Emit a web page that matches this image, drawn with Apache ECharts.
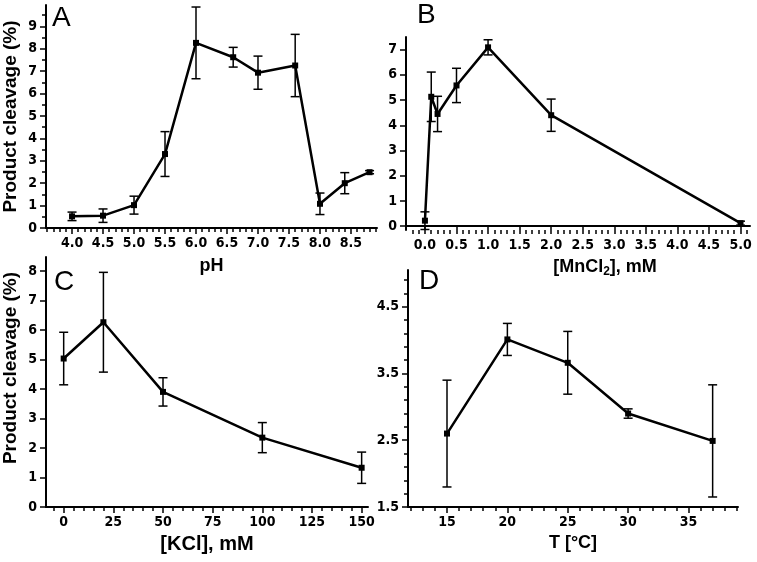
<!DOCTYPE html>
<html><head><meta charset="utf-8">
<script src="https://cdn.jsdelivr.net/npm/echarts@6/dist/echarts.min.js"></script>
<style>html,body{margin:0;padding:0;background:#fff}#c{width:757px;height:562px}</style>
</head><body><div id="c"></div>
<script>
// ---- Panel A: pH ----
const phX   = [4.0, 4.5, 5.0, 5.5, 6.0, 6.6, 7.0, 7.6, 8.0, 8.4, 8.8];
const phY   = [0.52, 0.55, 1.02, 3.30, 8.26, 7.62, 6.93, 7.25, 1.08, 2.00, 2.49];
const phErr = [0.19, 0.30, 0.40, 1.00, 1.60, 0.44, 0.74, 1.39, 0.48, 0.47, 0.07];
const phXTicks = [4.0, 4.5, 5.0, 5.5, 6.0, 6.5, 7.0, 7.5, 8.0, 8.5];
const phYTicks = [0, 1, 2, 3, 4, 5, 6, 7, 8, 9];

// ---- Panel B: MnCl2 ----
const mnX   = [0.0, 0.1, 0.2, 0.5, 1.0, 2.0, 5.0];
const mnY   = [0.22, 5.13, 4.45, 5.58, 7.09, 4.40, 0.12];
const mnErr = [0.35, 0.98, 0.70, 0.68, 0.30, 0.64, 0.08];
const mnXTicks = [0.0, 0.5, 1.0, 1.5, 2.0, 2.5, 3.0, 3.5, 4.0, 4.5, 5.0];
const mnYTicks = [0, 1, 2, 3, 4, 5, 6, 7];

// ---- Panel C: KCl ----
const kclX   = [0, 20, 50, 100, 150];
const kclY   = [5.03, 6.26, 3.90, 2.35, 1.33];
const kclErr = [0.89, 1.69, 0.48, 0.51, 0.53];
const kclXTicks = [0, 25, 50, 75, 100, 125, 150];
const kclYTicks = [0, 1, 2, 3, 4, 5, 6, 7, 8];

// ---- Panel D: Temperature ----
const tX   = [15, 20, 25, 30, 37];
const tY   = [2.60, 4.01, 3.66, 2.90, 2.49];
const tErr = [0.80, 0.24, 0.47, 0.07, 0.84];
const tXTicks = [15, 20, 25, 30, 35];
const tYTicks = [1.5, 2.5, 3.5, 4.5];

const FONT_NUM = '"Liberation Sans Narrow", "DejaVu Sans Condensed", "Liberation Sans", Arial, sans-serif';
const FONT = '"Liberation Sans", Arial, sans-serif';

function steps(a, b, s) { const out = []; const n = Math.round((b - a) / s); for (let i = 0; i <= n; i++) out.push(+(a + i * s).toFixed(4)); return out; }

const labelStyle = (fmt, margin) => ({ color: '#000', fontFamily: FONT_NUM, fontWeight: 'bold', fontSize: 14, margin: margin, formatter: fmt });

function mainAxis(g, min, max, ticks, fmt, isY, extra) {
  return Object.assign({
    type: 'value', gridIndex: g, min: min, max: max, position: isY ? 'left' : 'bottom',
    axisLine: { show: true, onZero: !isY, lineStyle: { color: '#000', width: 2 } },
    axisTick: { show: true, customValues: ticks, length: 6, lineStyle: { color: '#000', width: 1.5 } },
    axisLabel: Object.assign({ customValues: ticks }, labelStyle(fmt, isY ? 9 : 8)),
    splitLine: { show: false }
  }, extra || {});
}
function minorAxis(g, min, max, ticks, isY) {
  return {
    type: 'value', gridIndex: g, min: min, max: max, position: isY ? 'left' : 'bottom',
    axisLine: { show: false, onZero: !isY },
    axisTick: { show: true, customValues: ticks, length: 4, lineStyle: { color: '#000', width: 1.5 } },
    axisLabel: { show: false }, splitLine: { show: false }
  };
}

const f1 = v => v.toFixed(1);
const f0 = v => String(Math.round(v));
const nameStyle = { color: '#000', fontFamily: FONT, fontWeight: 'bold', fontSize: 18 };
const yNameStyle = { color: '#000', fontFamily: FONT, fontWeight: 'bold', fontSize: 19 };

const grids = [
  { left: 45, top: 5, width: 332, height: 223 },
  { left: 406, top: 37, width: 344, height: 193 },
  { left: 45, top: 257, width: 323, height: 250 },
  { left: 408, top: 270, width: 330, height: 237 }
];

const xAxes = [
  mainAxis(0, 3.58, 8.92, phXTicks, f1, false, { name: 'pH', nameLocation: 'middle', nameGap: 29, nameTextStyle: nameStyle }),
  mainAxis(1, -0.30, 5.15, mnXTicks, f1, false, { name: '[MnCl{sub|2}], mM', nameLocation: 'middle', nameGap: 27,
    nameTextStyle: Object.assign({}, nameStyle, { padding: [0, 0, 0, 54], rich: { sub: { fontFamily: FONT, fontWeight: 'bold', fontSize: 12, verticalAlign: 'top', padding: [9, 0, 0, 0], color: '#000' } } }) }),
  mainAxis(2, -8.9, 153.2, kclXTicks, f0, false, { name: '[KCl], mM', nameLocation: 'middle', nameGap: 27,
    nameTextStyle: Object.assign({}, nameStyle, { fontSize: 20 }) }),
  mainAxis(3, 11.77, 39.1, tXTicks, f0, false, { name: 'T [°C]', nameLocation: 'middle', nameGap: 27, nameTextStyle: nameStyle }),
  minorAxis(0, 3.58, 8.92, steps(3.6, 8.9, 0.1), false),
  minorAxis(1, -0.30, 5.15, steps(-0.2, 5.1, 0.1), false),
  minorAxis(2, -8.9, 153.2, steps(-5, 150, 5), false),
  minorAxis(3, 11.77, 39.1, steps(12, 39, 1), false)
];

const yAxes = [
  mainAxis(0, 0, 9.95, phYTicks, f0, true, { name: 'Product cleavage (%)', nameLocation: 'middle', nameGap: 26, nameRotate: 90, nameTextStyle: yNameStyle }),
  mainAxis(1, -0.15, 7.5, mnYTicks, f0, true),
  mainAxis(2, 0, 8.47, kclYTicks, f0, true, { name: 'Product cleavage (%)', nameLocation: 'middle', nameGap: 26, nameRotate: 90,
    nameTextStyle: Object.assign({}, yNameStyle, { padding: [0, 0, 0, 28] }) }),
  mainAxis(3, 1.5, 5.05, tYTicks, f1, true),
  minorAxis(0, 0, 9.95, steps(0.5, 9.5, 1), true),
  minorAxis(3, 1.5, 5.05, steps(1.7, 4.9, 0.2), true)
];

function lineSeries(ax, xs, ys) {
  return { type: 'line', xAxisIndex: ax, yAxisIndex: ax, data: xs.map((x, i) => [x, ys[i]]),
    symbol: 'rect', symbolSize: 6, showSymbol: true, z: 5,
    lineStyle: { color: '#000', width: 2.5 }, itemStyle: { color: '#000' }, silent: true };
}
function errSeries(ax, xs, ys, es) {
  return { type: 'custom', xAxisIndex: ax, yAxisIndex: ax, z: 4, silent: true, clip: false,
    data: xs.map((x, i) => [x, ys[i] - es[i], ys[i] + es[i]]),
    renderItem: function (params, api) {
      const lo = api.coord([api.value(0), api.value(1)]);
      const hi = api.coord([api.value(0), api.value(2)]);
      const w = 4.5, st = { stroke: '#000', lineWidth: 1.5, fill: null };
      return { type: 'group', children: [
        { type: 'line', shape: { x1: lo[0], y1: lo[1], x2: hi[0], y2: hi[1] }, style: st },
        { type: 'line', shape: { x1: lo[0] - w, y1: lo[1], x2: lo[0] + w, y2: lo[1] }, style: st },
        { type: 'line', shape: { x1: hi[0] - w, y1: hi[1], x2: hi[0] + w, y2: hi[1] }, style: st }
      ] };
    } };
}

const option = {
  animation: false,
  backgroundColor: '#fff',
  grid: grids,
  xAxis: xAxes,
  yAxis: yAxes,
  series: [
    errSeries(0, phX, phY, phErr), lineSeries(0, phX, phY),
    errSeries(1, mnX, mnY, mnErr), lineSeries(1, mnX, mnY),
    errSeries(2, kclX, kclY, kclErr), lineSeries(2, kclX, kclY),
    errSeries(3, tX, tY, tErr), lineSeries(3, tX, tY)
  ],
  graphic: [
    { type: 'text', left: 52, top: 4, style: { text: 'A', fill: '#000', font: 'normal 28px ' + FONT } },
    { type: 'text', left: 417, top: 1, style: { text: 'B', fill: '#000', font: 'normal 28px ' + FONT } },
    { type: 'text', left: 54, top: 268, style: { text: 'C', fill: '#000', font: 'normal 28px ' + FONT } },
    { type: 'text', left: 419, top: 267, style: { text: 'D', fill: '#000', font: 'normal 28px ' + FONT } }
  ]
};

const chart = echarts.init(document.getElementById('c'), null, { renderer: 'canvas' });
chart.setOption(option);
</script>
</body></html>
